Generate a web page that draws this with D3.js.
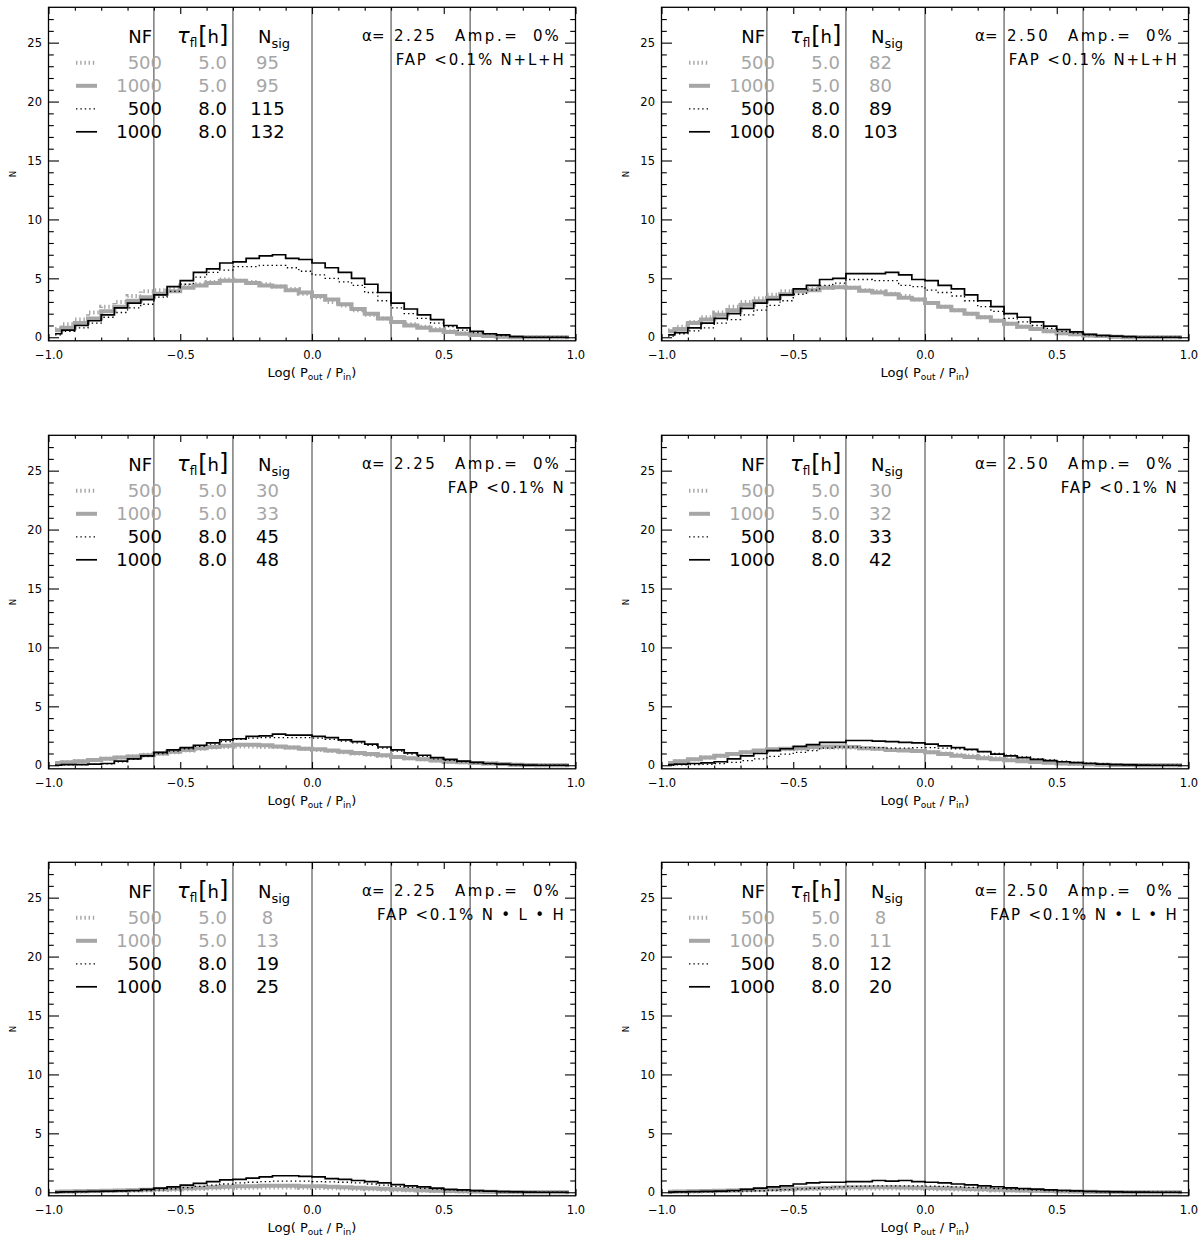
<!DOCTYPE html>
<html><head><meta charset="utf-8">
<script src="https://cdn.jsdelivr.net/npm/d3@7"></script>
<style>body{margin:0;background:#fff}text{font-family:"DejaVu Sans",sans-serif}</style>
</head><body>
<svg id="c" width="1199" height="1238"></svg>
<script>
// ---------- categories / ticks ----------
const binCenters = [-0.975,-0.925,-0.875,-0.825,-0.775,-0.725,-0.675,-0.625,-0.575,-0.525,
  -0.475,-0.425,-0.375,-0.325,-0.275,-0.225,-0.175,-0.125,-0.075,-0.025,
  0.025,0.075,0.125,0.175,0.225,0.275,0.325,0.375,0.425,0.475,
  0.525,0.575,0.625,0.675,0.725,0.775,0.825,0.875,0.925,0.975];
const xMajor = [-1.0,-0.5,0.0,0.5,1.0];
const xTickLabels = ["\u22121.0","\u22120.5","0.0","0.5","1.0"];
const xMinor = [-0.9,-0.8,-0.7,-0.6,-0.4,-0.3,-0.2,-0.1,0.1,0.2,0.3,0.4,0.6,0.7,0.8,0.9];
const yMajor = [0,5,10,15,20,25];
const yMinor = [1,2,3,4,6,7,8,9,11,12,13,14,16,17,18,19,21,22,23,24,26,27];
const cutLines = [-0.6,-0.3,0.0,0.3,0.6];
const alphaLabels = ["2.25","2.50","2.25","2.50","2.25","2.50"];
const fapLabels = ["N+L+H","N+L+H","N","N","N \u2022 L \u2022 H","N \u2022 L \u2022 H"];
const nfLabels = ["500","1000","500","1000"];
const tauLabels = ["5.0","5.0","8.0","8.0"];
const nsigLabels = [[95,95,115,132],[82,80,89,103],[30,33,45,48],[30,32,33,42],[8,13,19,25],[8,11,12,20]];

// ---------- series values (order: 500/5.0 gray dotted, 1000/5.0 gray thick, 500/8.0 black dotted, 1000/8.0 black solid) ----------
const p1_g500  = [0.7,1.1,1.5,2.1,2.6,3.0,3.5,3.9,4.0,4.2, 4.4,4.5,4.7,4.9,4.8,4.7,4.5,4.3,4.1,3.7, 3.4,3.0,2.7,2.3,1.9,1.6,1.3,1.1,0.9,0.7, 0.5,0.35,0.2,0.1,0.05,0,0,0,0,0];
const p1_g1000 = [0.6,0.8,1.2,1.6,2.2,2.6,3.1,3.4,3.7,3.9, 4.2,4.4,4.6,4.8,4.8,4.6,4.4,4.3,4.0,3.8, 3.5,3.2,2.8,2.4,2.0,1.6,1.3,1.0,0.8,0.6, 0.45,0.3,0.2,0.1,0.05,0,0,0,0,0];
const p1_b500  = [0.2,0.5,0.8,1.2,1.7,2.1,2.5,2.8,3.4,3.9, 4.5,5.1,5.5,5.7,6.0,6.0,6.1,6.1,5.9,5.6, 5.3,5.0,4.7,4.4,3.8,3.1,2.5,2.0,1.6,1.2, 0.9,0.6,0.4,0.3,0.15,0.05,0,0,0,0];
const p1_b1000 = [0.3,0.6,1.0,1.4,1.9,2.5,2.9,3.2,3.6,4.3, 4.8,5.5,5.8,6.3,6.4,6.7,6.9,7.0,6.7,6.6, 6.3,5.9,5.5,5.0,4.5,3.8,2.9,2.4,1.9,1.5, 1.0,0.8,0.5,0.3,0.2,0.05,0,0,0,0];

const p2_g500  = [0.6,0.9,1.3,1.7,2.1,2.6,3.0,3.3,3.6,3.9, 4.0,4.1,4.2,4.3,4.2,4.0,3.9,3.7,3.5,3.2, 2.9,2.6,2.3,2.0,1.7,1.4,1.15,0.9,0.7,0.5, 0.35,0.25,0.15,0.1,0.05,0,0,0,0,0];
const p2_g1000 = [0.5,0.7,1.2,1.5,1.9,2.3,2.75,3.05,3.35,3.65, 3.9,4.0,4.2,4.25,4.2,3.95,3.8,3.65,3.35,3.2, 2.9,2.6,2.3,2.0,1.7,1.4,1.15,0.9,0.7,0.5, 0.35,0.25,0.15,0.1,0.05,0,0,0,0,0];
const p2_b500  = [0.1,0.3,0.55,0.8,1.2,1.5,1.9,2.3,2.7,3.1, 3.65,4.0,4.4,4.6,4.9,4.9,4.8,4.8,4.4,4.3, 4.0,3.8,3.5,3.1,2.6,2.2,1.6,1.3,1.0,0.75, 0.5,0.35,0.2,0.12,0.07,0.03,0,0,0,0];
const p2_b1000 = [0.2,0.4,0.8,1.2,1.6,2.0,2.45,2.9,3.2,3.6, 4.1,4.4,4.9,5.0,5.4,5.4,5.4,5.5,5.3,4.9, 4.8,4.4,4.1,3.6,3.1,2.6,2.0,1.7,1.3,0.95, 0.65,0.45,0.25,0.15,0.1,0.05,0,0,0,0];

const p3_g500  = [0.15,0.25,0.35,0.45,0.55,0.65,0.75,0.9,1.0,1.1, 1.25,1.4,1.5,1.55,1.6,1.6,1.55,1.55,1.5,1.4, 1.3,1.2,1.1,1.0,0.9,0.8,0.7,0.6,0.5,0.4, 0.3,0.25,0.2,0.15,0.1,0.05,0.03,0,0,0];
const p3_g1000 = [0.2,0.25,0.35,0.45,0.55,0.65,0.75,0.85,1.0,1.15, 1.3,1.45,1.55,1.65,1.75,1.75,1.7,1.6,1.5,1.4, 1.35,1.25,1.15,1.05,0.95,0.85,0.7,0.6,0.5,0.4, 0.3,0.25,0.2,0.15,0.1,0.05,0.03,0,0,0];
const p3_b500  = [0,0.03,0.05,0.08,0.12,0.3,0.5,0.75,1.0,1.2, 1.4,1.6,1.8,2.0,2.2,2.3,2.35,2.35,2.35,2.35, 2.3,2.2,2.05,1.9,1.7,1.45,1.2,0.95,0.75,0.55, 0.42,0.3,0.2,0.12,0.08,0.04,0.02,0,0,0];
const p3_b1000 = [0,0.05,0.05,0.1,0.15,0.35,0.55,0.8,1.1,1.3, 1.5,1.7,1.9,2.15,2.25,2.45,2.5,2.65,2.55,2.55, 2.45,2.35,2.15,2.0,1.8,1.55,1.3,1.05,0.85,0.65, 0.5,0.35,0.25,0.15,0.1,0.05,0.02,0,0,0];

const p4_g500  = [0.2,0.35,0.5,0.65,0.8,0.95,1.1,1.2,1.3,1.35, 1.4,1.45,1.5,1.5,1.5,1.45,1.4,1.35,1.3,1.2, 1.1,1.0,0.9,0.8,0.7,0.6,0.5,0.4,0.32,0.25, 0.18,0.13,0.09,0.06,0.03,0.02,0,0,0,0];
const p4_g1000 = [0.2,0.35,0.5,0.65,0.8,0.95,1.1,1.25,1.35,1.4, 1.45,1.55,1.6,1.6,1.55,1.45,1.4,1.3,1.25,1.2, 1.1,0.95,0.8,0.7,0.6,0.5,0.42,0.35,0.28,0.22, 0.16,0.12,0.08,0.05,0.03,0.02,0,0,0,0];
const p4_b500  = [0,0.03,0.05,0.08,0.15,0.25,0.4,0.55,0.75,0.95, 1.1,1.25,1.45,1.55,1.55,1.5,1.5,1.45,1.45,1.5, 1.5,1.45,1.4,1.3,1.15,1.0,0.85,0.7,0.55,0.45, 0.35,0.25,0.18,0.12,0.07,0.04,0.02,0,0,0];
const p4_b1000 = [0.05,0.1,0.15,0.2,0.3,0.55,0.8,1.0,1.25,1.4, 1.6,1.75,1.95,1.95,2.1,2.1,2.05,2.0,1.95,1.9, 1.8,1.65,1.5,1.35,1.15,0.95,0.8,0.65,0.5,0.4, 0.3,0.22,0.15,0.1,0.06,0.03,0.01,0,0,0];

const p5_g500  = [0.04,0.05,0.06,0.08,0.1,0.12,0.14,0.16,0.19,0.22, 0.25,0.28,0.31,0.34,0.36,0.38,0.4,0.4,0.4,0.38, 0.36,0.34,0.31,0.28,0.25,0.22,0.18,0.15,0.12,0.1, 0.08,0.06,0.04,0.03,0.02,0.01,0,0,0,0];
const p5_g1000 = [0.05,0.07,0.09,0.1,0.12,0.15,0.18,0.22,0.26,0.3, 0.34,0.38,0.42,0.46,0.5,0.52,0.55,0.55,0.55,0.52, 0.5,0.47,0.43,0.39,0.35,0.3,0.25,0.21,0.17,0.13, 0.1,0.08,0.06,0.04,0.03,0.02,0.01,0,0,0];
const p5_b500  = [0.02,0.03,0.04,0.05,0.06,0.08,0.1,0.15,0.2,0.3, 0.4,0.5,0.6,0.7,0.8,0.85,0.9,0.95,0.95,0.95, 0.9,0.88,0.85,0.8,0.7,0.6,0.5,0.42,0.34,0.26, 0.2,0.15,0.1,0.07,0.04,0.02,0.01,0,0,0];
const p5_b1000 = [0.02,0.03,0.05,0.07,0.1,0.12,0.15,0.25,0.35,0.45, 0.6,0.75,0.9,1.05,1.1,1.2,1.3,1.4,1.4,1.35, 1.3,1.15,1.1,1.0,0.9,0.8,0.65,0.55,0.45,0.35, 0.25,0.2,0.14,0.1,0.06,0.04,0.02,0,0,0];

const p6_g500  = [0.04,0.05,0.07,0.09,0.11,0.13,0.15,0.17,0.2,0.22, 0.25,0.27,0.29,0.31,0.32,0.33,0.33,0.32,0.31,0.3, 0.28,0.26,0.24,0.21,0.19,0.16,0.14,0.12,0.1,0.08, 0.06,0.05,0.03,0.02,0.01,0.01,0,0,0,0];
const p6_g1000 = [0.05,0.07,0.09,0.11,0.13,0.16,0.19,0.22,0.25,0.28, 0.31,0.34,0.37,0.4,0.42,0.43,0.43,0.42,0.41,0.39, 0.37,0.34,0.31,0.28,0.25,0.22,0.18,0.15,0.12,0.1, 0.08,0.06,0.04,0.03,0.02,0.01,0,0,0,0];
const p6_b500  = [0.01,0.02,0.03,0.04,0.05,0.07,0.1,0.13,0.17,0.22, 0.28,0.34,0.4,0.45,0.5,0.52,0.55,0.55,0.55,0.55, 0.52,0.5,0.46,0.42,0.37,0.32,0.27,0.22,0.18,0.14, 0.11,0.08,0.06,0.04,0.02,0.01,0,0,0,0];
const p6_b1000 = [0.02,0.03,0.05,0.07,0.1,0.15,0.25,0.35,0.45,0.55, 0.7,0.8,0.85,0.85,0.9,0.9,1.0,0.95,1.0,0.9, 0.85,0.8,0.7,0.62,0.55,0.47,0.38,0.32,0.26,0.2, 0.15,0.11,0.08,0.05,0.03,0.02,0.01,0,0,0];

const panelSeries = [
  [p1_g500,p1_g1000,p1_b500,p1_b1000],
  [p2_g500,p2_g1000,p2_b500,p2_b1000],
  [p3_g500,p3_g1000,p3_b500,p3_b1000],
  [p4_g500,p4_g1000,p4_b500,p4_b1000],
  [p5_g500,p5_g1000,p5_b500,p5_b1000],
  [p6_g500,p6_g1000,p6_b500,p6_b1000]
];

// ---------- layout & styles ----------
const GRAY = "#a6a6a6";
const styles = [
  {stroke:GRAY, width:4, dash:"1.4,2.8"},
  {stroke:GRAY, width:4, dash:null},
  {stroke:"#000", width:1.3, dash:"1.4,3"},
  {stroke:"#000", width:1.7, dash:null}
];
const drawOrder = [1,0,2,3];
const colX = [48.5, 661.5], rowY = [7.3, 435.3, 862.3];
const PW = 527, PH = 333.5;

const svg = d3.select("#c");

function stepPoints(vals){
  const n = binCenters.length, pts = [];
  for(let i=0;i<n;i++){
    const l = i===0 ? binCenters[0] : (binCenters[i-1]+binCenters[i])/2;
    const r = i===n-1 ? binCenters[n-1] : (binCenters[i]+binCenters[i+1])/2;
    pts.push([l, vals[i]], [r, vals[i]]);
  }
  return pts;
}

panelSeries.forEach((series, p) => {
  const L = colX[p%2], T = rowY[Math.floor(p/2)];
  const g = svg.append("g").attr("transform", `translate(${L},${T})`);
  const x = d3.scaleLinear().domain([-1,1]).range([0,PW]);
  const y = d3.scaleLinear().domain([-0.3,28]).range([PH,0]);

  // vertical cut lines
  g.selectAll("line.cut").data(cutLines).join("line")
    .attr("x1",d=>x(d)).attr("x2",d=>x(d)).attr("y1",0).attr("y2",PH)
    .attr("stroke","#3a3a3a").attr("stroke-width",1);

  // histograms
  const line = d3.line().x(d=>x(d[0])).y(d=>y(d[1]));
  drawOrder.forEach(k => {
    const s = styles[k];
    g.append("path").attr("d", line(stepPoints(series[k])))
      .attr("fill","none").attr("stroke",s.stroke).attr("stroke-width",s.width)
      .attr("stroke-dasharray",s.dash).attr("stroke-linecap","butt");
  });

  // axes
  const fmt = (d)=> xTickLabels[xMajor.indexOf(d)];
  g.append("g").attr("transform",`translate(0,${PH})`)
    .call(d3.axisBottom(x).tickValues(xMajor).tickSizeInner(-6.7).tickSizeOuter(0).tickPadding(10.5).tickFormat(fmt));
  g.append("g").attr("transform",`translate(0,${PH})`)
    .call(d3.axisBottom(x).tickValues(xMinor).tickSizeInner(-3.4).tickSizeOuter(0).tickFormat(""));
  g.append("g").call(d3.axisTop(x).tickValues(xMajor).tickSizeInner(-6.7).tickSizeOuter(0).tickFormat(""));
  g.append("g").call(d3.axisTop(x).tickValues(xMinor).tickSizeInner(-3.4).tickSizeOuter(0).tickFormat(""));
  g.append("g").call(d3.axisLeft(y).tickValues(yMajor).tickSizeInner(-10.5).tickSizeOuter(0).tickPadding(6.5).tickFormat(d3.format("d")));
  g.append("g").call(d3.axisLeft(y).tickValues(yMinor).tickSizeInner(-5.3).tickSizeOuter(0).tickFormat(""));
  g.append("g").attr("transform",`translate(${PW},0)`).call(d3.axisRight(y).tickValues(yMajor).tickSizeInner(-10.5).tickSizeOuter(0).tickFormat(""));
  g.append("g").attr("transform",`translate(${PW},0)`).call(d3.axisRight(y).tickValues(yMinor).tickSizeInner(-5.3).tickSizeOuter(0).tickFormat(""));
  g.selectAll(".domain").remove();
  g.selectAll(".tick line").attr("stroke","#000").attr("stroke-width",1.1);
  g.selectAll(".tick text").attr("font-family","DejaVu Sans").attr("font-size",11.5).attr("fill","#000");

  g.append("rect").attr("x",0).attr("y",0).attr("width",PW).attr("height",PH)
    .attr("fill","none").attr("stroke","#000").attr("stroke-width",1.3);

  // axis titles
  const xt = g.append("text").attr("x",PW/2).attr("y",PH+36).attr("text-anchor","middle").attr("font-size",13);
  xt.append("tspan").text("Log( P");
  xt.append("tspan").attr("font-size",9).attr("dy",3).text("out");
  xt.append("tspan").attr("dy",-3).text(" / P");
  xt.append("tspan").attr("font-size",9).attr("dy",3).text("in");
  xt.append("tspan").attr("dy",-3).text(")");
  g.append("text").attr("transform",`translate(${-33},${PH/2}) rotate(-90)`)
    .attr("text-anchor","middle").attr("font-size",8.5).text("N");

  // legend header
  g.append("text").attr("x",103.5).attr("y",36).attr("text-anchor","end").attr("font-size",18).text("NF");
  const th = g.append("text").attr("x",128.5).attr("y",36).attr("font-size",18);
  th.append("tspan").attr("font-size",21).attr("font-style","italic").text("\u03c4");
  th.append("tspan").attr("font-size",12).attr("dy",4).text("fl");
  th.append("tspan").attr("font-size",24).attr("dy",-3).attr("dx",1).text("[");
  th.append("tspan").attr("font-size",18).attr("dy",-1).text("h");
  th.append("tspan").attr("font-size",24).text("]");
  const nh = g.append("text").attr("x",209.5).attr("y",36).attr("font-size",18);
  nh.append("tspan").text("N");
  nh.append("tspan").attr("font-size",13).attr("dy",5).text("sig");

  const rowBase = [62,85,108,131];
  for(let r=0;r<4;r++){
    const col = r<2 ? GRAY : "#000";
    const s = styles[r];
    g.append("line").attr("x1",27.5).attr("x2",48.5).attr("y1",rowBase[r]-6.5).attr("y2",rowBase[r]-6.5)
      .attr("stroke",s.stroke).attr("stroke-width",s.width).attr("stroke-dasharray",s.dash);
    g.append("text").attr("x",113.5).attr("y",rowBase[r]).attr("text-anchor","end").attr("font-size",18).attr("fill",col).text(nfLabels[r]);
    g.append("text").attr("x",178.5).attr("y",rowBase[r]).attr("text-anchor","end").attr("font-size",18).attr("fill",col).text(tauLabels[r]);
    g.append("text").attr("x",219).attr("y",rowBase[r]).attr("text-anchor","middle").attr("font-size",18).attr("fill",col).text(nsigLabels[p][r]);
  }

  // right annotations
  const at = g.append("text").attr("y",34).attr("font-size",15);
  at.append("tspan").attr("x",PW-213.5).text("\u03b1=");
  at.append("tspan").attr("x",PW-181.5).attr("letter-spacing",2.5).text(alphaLabels[p]);
  at.append("tspan").attr("x",PW-120.5).attr("letter-spacing",2.5).text("Amp.=");
  at.append("tspan").attr("x",PW-42.5).attr("letter-spacing",2).text("0%");
  g.append("text").attr("x",PW-10).attr("y",57.3).attr("text-anchor","end").attr("font-size",15)
    .attr("letter-spacing",1.8).style("white-space","pre").text("FAP <0.1% " + fapLabels[p]);
});
</script>
</body></html>
